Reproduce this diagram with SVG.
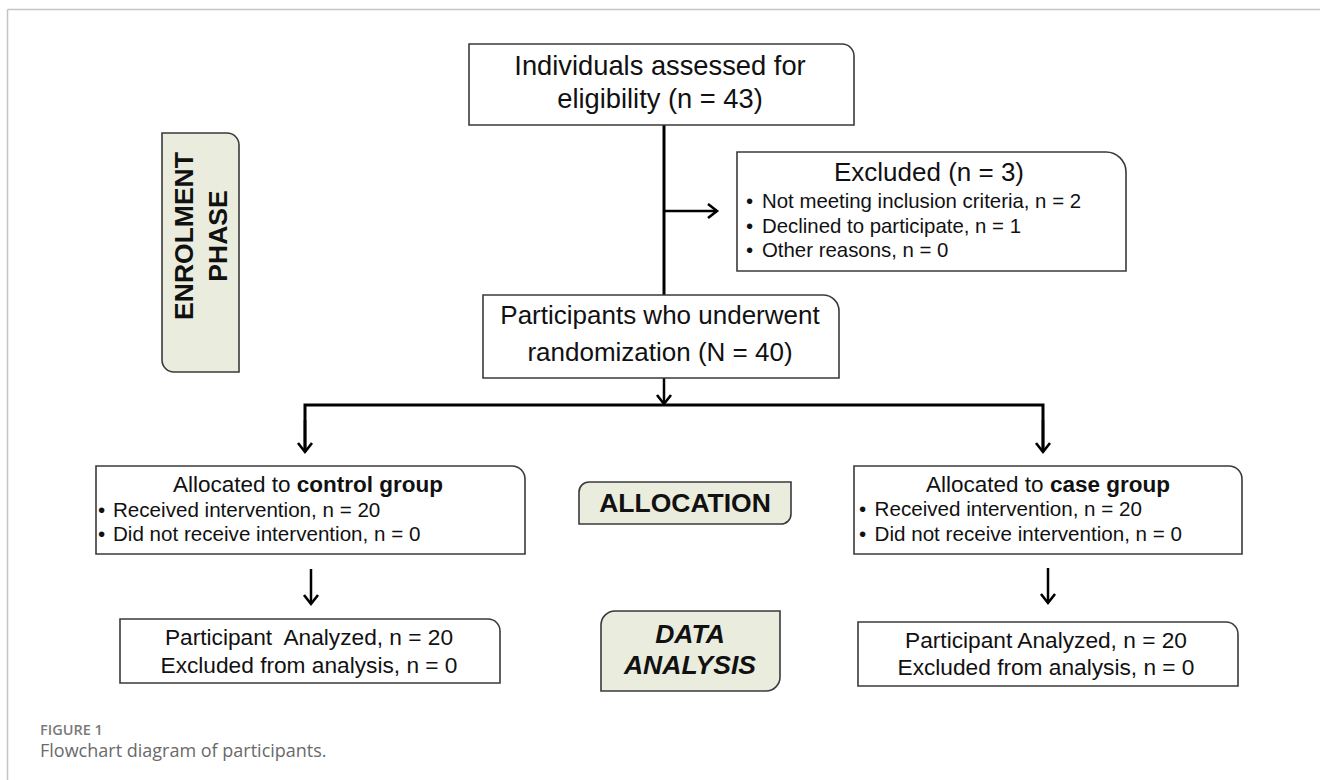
<svg xmlns="http://www.w3.org/2000/svg" width="1320" height="780" viewBox="0 0 1320 780">
<style>
  .box { fill: #ffffff; stroke: #3a3a3a; stroke-width: 1.6; }
  .phase { fill: #eaedde; stroke: #3a3a3a; stroke-width: 1.6; }
  .t { font-family: "Liberation Sans", Arial, sans-serif; fill: #111; }
  .ph { font-family: "Liberation Sans", Arial, sans-serif; font-weight: bold; fill: #111; }
  .conn { fill: none; stroke: #000; stroke-width: 3; }
  .conn2 { fill: none; stroke: #000; stroke-width: 2.5; }
  .cap { font-family: "Open Sans", "Liberation Sans", sans-serif; }
</style>
<defs>
  <marker id="chev" markerUnits="userSpaceOnUse" markerWidth="20" markerHeight="20" refX="14" refY="10" orient="auto">
    <path d="M5,3 L14,10 L5,17" fill="none" stroke="#000" stroke-width="2.6" stroke-linejoin="miter"/>
  </marker>
</defs>

<rect width="1320" height="780" fill="#ffffff"/>
<g id="frame">
  <line x1="7.5" y1="9.5" x2="1320" y2="9.5" stroke="#c4c4c4" stroke-width="1.5"/>
  <line x1="7.5" y1="9.5" x2="7.5" y2="780" stroke="#c4c4c4" stroke-width="1.5"/>
</g>

<g id="connectors">
  <line class="conn" x1="664" y1="125" x2="664" y2="295"/>
  <line class="conn2" x1="664" y1="211" x2="717" y2="211" marker-end="url(#chev)"/>
  <line class="conn2" x1="664" y1="378" x2="664" y2="404" marker-end="url(#chev)"/>
  <polyline class="conn" points="305,452 305,405 1043,405 1043,452"/>
  <line class="conn2" x1="305" y1="420" x2="305" y2="452" marker-end="url(#chev)"/>
  <line class="conn2" x1="1043" y1="420" x2="1043" y2="452" marker-end="url(#chev)"/>
  <line class="conn2" x1="311" y1="569" x2="311" y2="604" marker-end="url(#chev)"/>
  <line class="conn2" x1="1048" y1="568" x2="1048" y2="603" marker-end="url(#chev)"/>
</g>

<g id="enrolment-phase">
  <path class="phase" d="M162,133 H227 A12,12 0 0 1 239,145 V372 H174 A12,12 0 0 1 162,360 Z"/>
  <text class="ph" font-size="26.5" text-anchor="middle" transform="translate(193,236) rotate(-90)">ENROLMENT</text>
  <text class="ph" font-size="26.5" text-anchor="middle" transform="translate(227,236) rotate(-90)">PHASE</text>
</g>

<g id="assessed">
  <path class="box" d="M469,44 H842 A12,12 0 0 1 854,56 V125 H469 Z"/>
  <text class="t" font-size="27.3" text-anchor="middle" x="660" y="75">Individuals assessed for</text>
  <text class="t" font-size="27.3" text-anchor="middle" x="660" y="108">eligibility (n = 43)</text>
</g>

<g id="excluded">
  <path class="box" d="M737,152 H1106 A20,20 0 0 1 1126,172 V271 H737 Z"/>
  <text class="t" font-size="26" text-anchor="middle" x="929" y="181">Excluded (n = 3)</text>
  <text class="t" font-size="20.4"><tspan x="746" y="208">•</tspan><tspan x="762" y="208">Not meeting inclusion criteria, n = 2</tspan></text>
  <text class="t" font-size="20.4"><tspan x="746" y="232.5">•</tspan><tspan x="762" y="232.5">Declined to participate, n = 1</tspan></text>
  <text class="t" font-size="20.4"><tspan x="746" y="257">•</tspan><tspan x="762" y="257">Other reasons, n = 0</tspan></text>
</g>

<g id="randomization">
  <path class="box" d="M483,295 H823 A16,16 0 0 1 839,311 V378 H483 Z"/>
  <text class="t" font-size="26" text-anchor="middle" x="660" y="324">Participants who underwent</text>
  <text class="t" font-size="26" text-anchor="middle" x="660" y="361">randomization (N = 40)</text>
</g>

<g id="control-group">
  <path class="box" d="M96,466 H512 A13,13 0 0 1 525,479 V554 H96 Z"/>
  <text class="t" font-size="22.5" text-anchor="middle" x="308" y="492">Allocated to <tspan font-weight="bold">control group</tspan></text>
  <text class="t" font-size="20.6"><tspan x="98" y="517">•</tspan><tspan x="113" y="517">Received intervention, n = 20</tspan></text>
  <text class="t" font-size="20.6"><tspan x="98" y="541">•</tspan><tspan x="113" y="541">Did not receive intervention, n = 0</tspan></text>
</g>

<g id="case-group">
  <path class="box" d="M854,466 H1229 A13,13 0 0 1 1242,479 V554 H854 Z"/>
  <text class="t" font-size="22.5" text-anchor="middle" x="1048" y="492">Allocated to <tspan font-weight="bold">case group</tspan></text>
  <text class="t" font-size="20.6"><tspan x="859" y="516">•</tspan><tspan x="874.6" y="516">Received intervention, n = 20</tspan></text>
  <text class="t" font-size="20.6"><tspan x="859" y="540.5">•</tspan><tspan x="874.6" y="540.5">Did not receive intervention, n = 0</tspan></text>
</g>

<g id="allocation-phase">
  <path class="phase" d="M589,482 H791 V514 A10,10 0 0 1 781,524 H579 V492 A10,10 0 0 1 589,482 Z"/>
  <text class="ph" font-size="26.5" text-anchor="middle" x="685" y="512">ALLOCATION</text>
</g>

<g id="control-analysis">
  <path class="box" d="M120,619 H488 A12,12 0 0 1 500,631 V683 H120 Z"/>
  <text class="t" font-size="22.7" text-anchor="middle" x="309" y="645" xml:space="preserve">Participant  Analyzed, n = 20</text>
  <text class="t" font-size="22.7" text-anchor="middle" x="309" y="673">Excluded from analysis, n = 0</text>
</g>

<g id="data-analysis-phase">
  <path class="phase" d="M615,611 H780 V677 A14,14 0 0 1 766,691 H601 V625 A14,14 0 0 1 615,611 Z"/>
  <text class="ph" font-size="26.5" font-style="italic" text-anchor="middle" x="690" y="643">DATA</text>
  <text class="ph" font-size="26.5" font-style="italic" text-anchor="middle" x="690" y="674">ANALYSIS</text>
</g>

<g id="case-analysis">
  <path class="box" d="M858,622 H1226 A12,12 0 0 1 1238,634 V686 H858 Z"/>
  <text class="t" font-size="22.7" text-anchor="middle" x="1046" y="648">Participant Analyzed, n = 20</text>
  <text class="t" font-size="22.7" text-anchor="middle" x="1046" y="675">Excluded from analysis, n = 0</text>
</g>

<g id="caption">
  <text class="cap" x="40" y="735" font-size="14.5" font-weight="600" fill="#7a7a7a">FIGURE 1</text>
  <text class="cap" x="40" y="757" font-size="18" fill="#6a6a6a">Flowchart diagram of participants.</text>
</g>
</svg>
